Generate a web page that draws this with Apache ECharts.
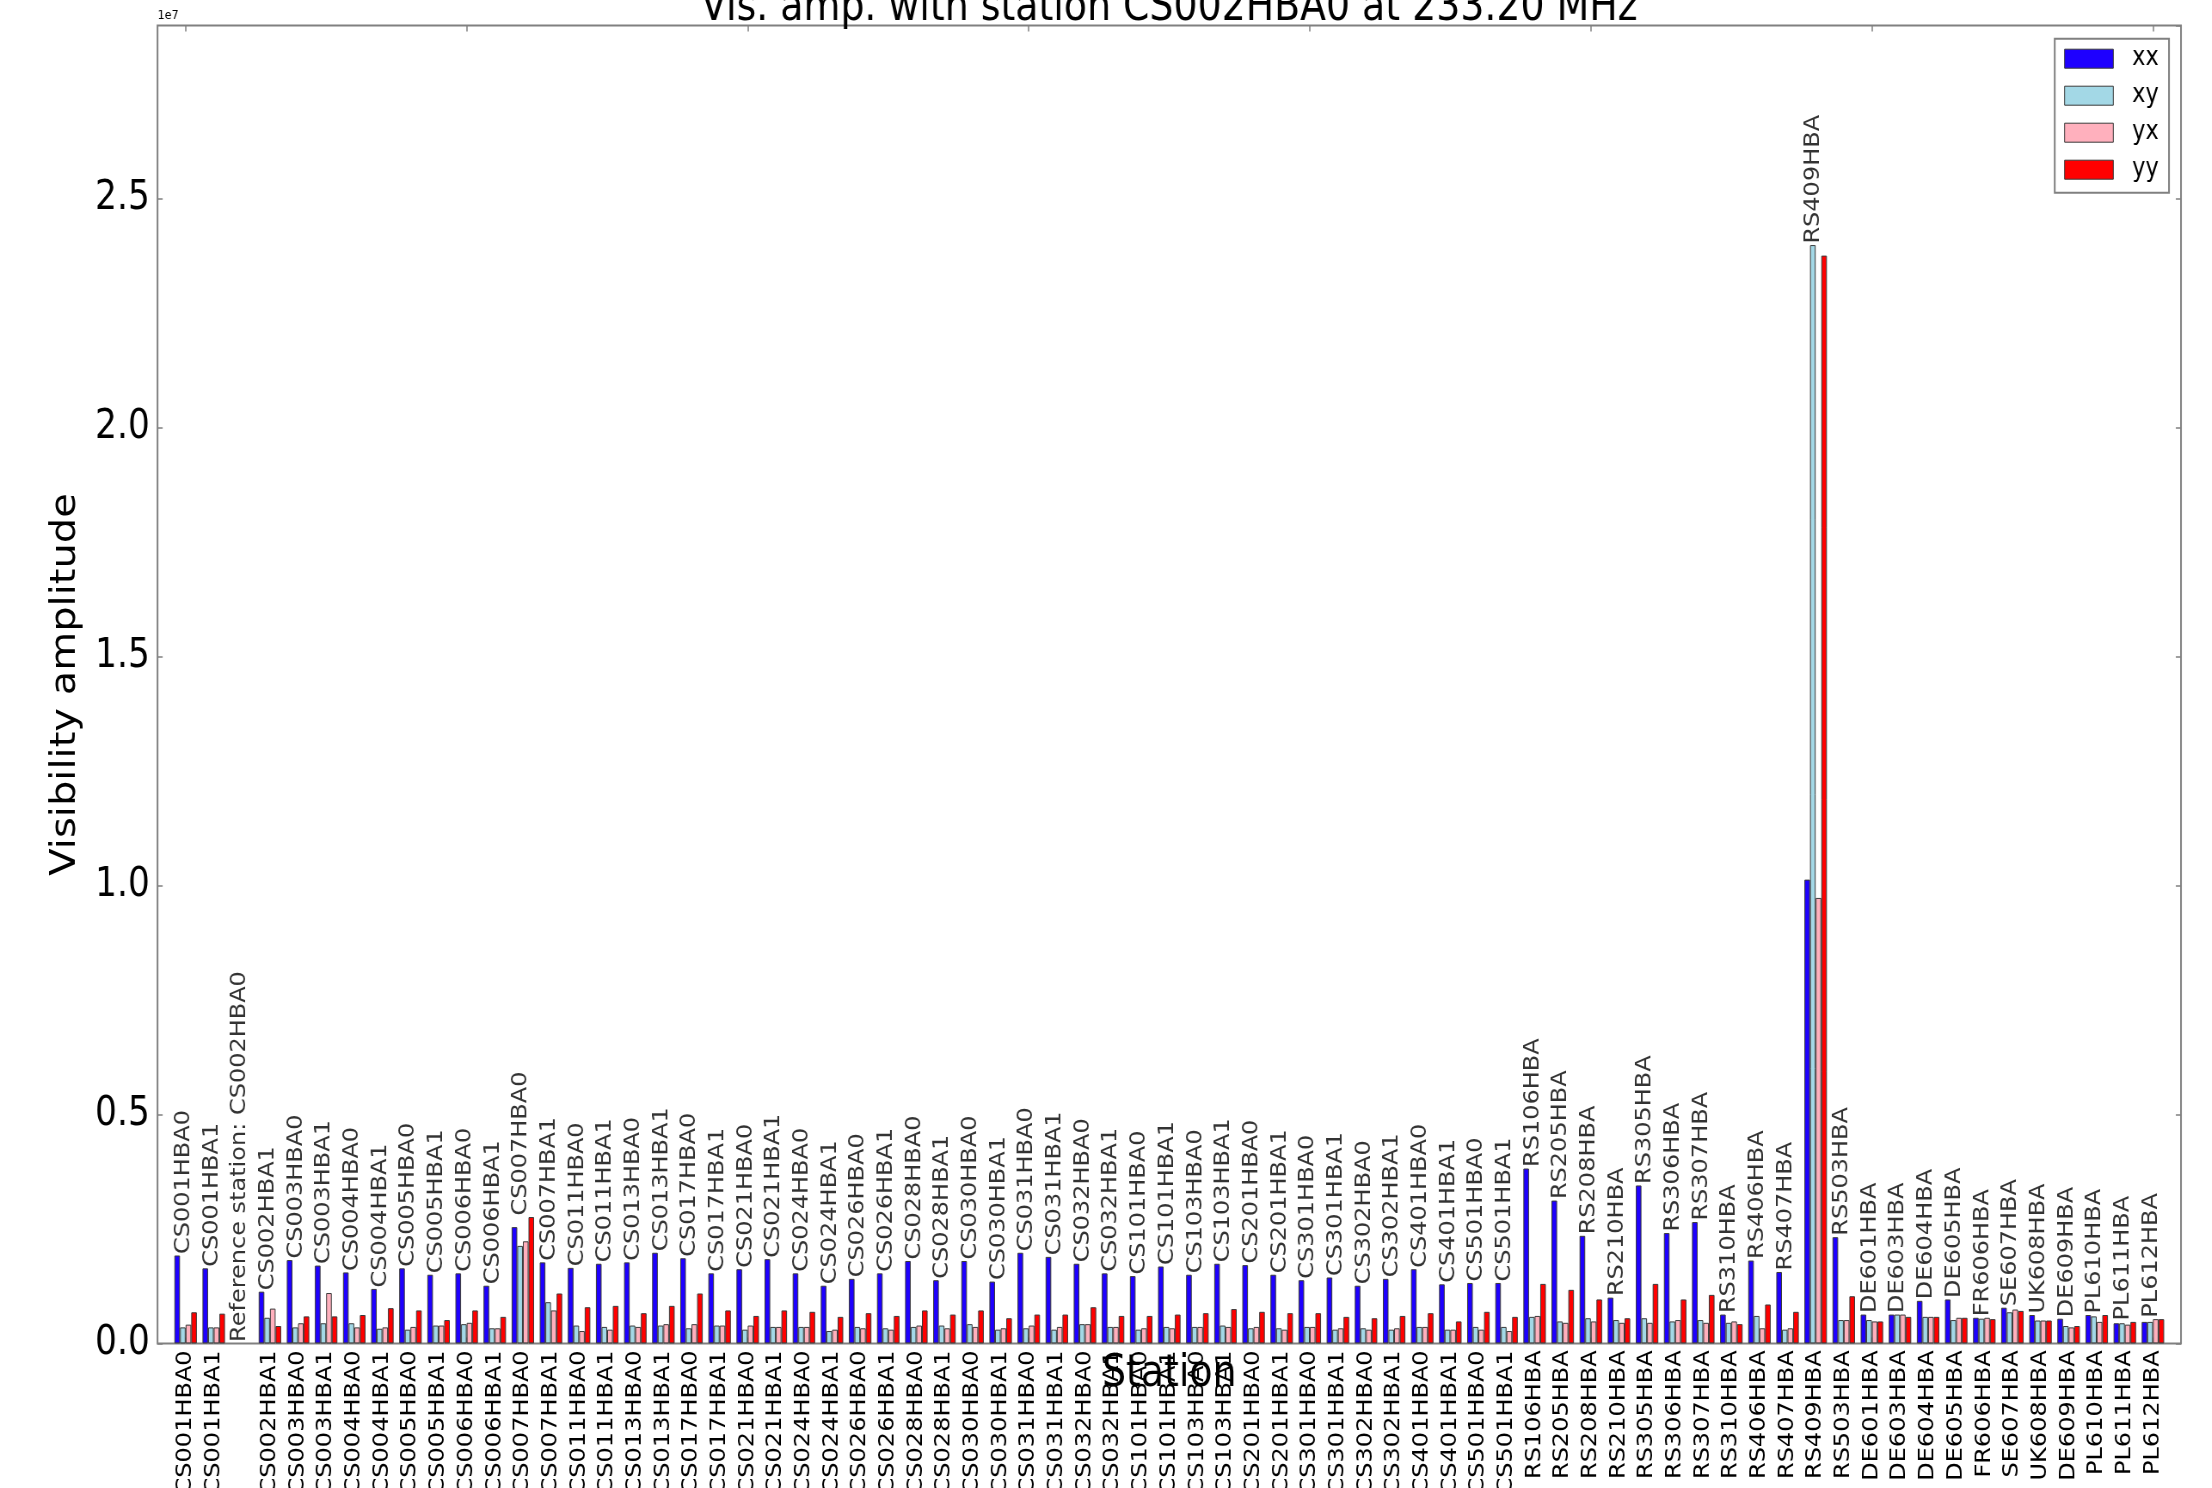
<!DOCTYPE html>
<html>
<head>
<meta charset="utf-8">
<script src="https://cdn.jsdelivr.net/npm/echarts@6/dist/echarts.min.js"></script>
<style>
  html, body { margin: 0; padding: 0; background: #fff; overflow: hidden; }
  #wrap { width: 2212px; height: 1488px; overflow: hidden; }
  #chart { height: 1488px; transform-origin: 0 0; }
</style>
</head>
<body>
<div id="wrap"><div id="chart"></div></div>
<script>
// Station names (tick labels); the reference station gets an empty tick label
const stations = [
  'CS001HBA0','CS001HBA1','CS002HBA0','CS002HBA1','CS003HBA0','CS003HBA1','CS004HBA0','CS004HBA1',
  'CS005HBA0','CS005HBA1','CS006HBA0','CS006HBA1','CS007HBA0','CS007HBA1','CS011HBA0','CS011HBA1',
  'CS013HBA0','CS013HBA1','CS017HBA0','CS017HBA1','CS021HBA0','CS021HBA1','CS024HBA0','CS024HBA1',
  'CS026HBA0','CS026HBA1','CS028HBA0','CS028HBA1','CS030HBA0','CS030HBA1','CS031HBA0','CS031HBA1',
  'CS032HBA0','CS032HBA1','CS101HBA0','CS101HBA1','CS103HBA0','CS103HBA1','CS201HBA0','CS201HBA1',
  'CS301HBA0','CS301HBA1','CS302HBA0','CS302HBA1','CS401HBA0','CS401HBA1','CS501HBA0','CS501HBA1',
  'RS106HBA','RS205HBA','RS208HBA','RS210HBA','RS305HBA','RS306HBA','RS307HBA','RS310HBA',
  'RS406HBA','RS407HBA','RS409HBA','RS503HBA','DE601HBA','DE603HBA','DE604HBA','DE605HBA',
  'FR606HBA','SE607HBA','UK608HBA','DE609HBA','PL610HBA','PL611HBA','PL612HBA'
];
const refStation = 'CS002HBA0';
const freqMHz = '233.20';

// Visibility amplitudes, units of 1e7 (null = reference station itself)
const xx = [0.192,0.164,null,0.113,0.182,0.170,0.155,0.119,0.164,0.150,0.153,0.126,0.254,0.177,0.165,0.174,
  0.177,0.198,0.186,0.153,0.162,0.184,0.153,0.126,0.141,0.153,0.180,0.138,0.180,0.135,0.198,0.189,
  0.174,0.153,0.147,0.168,0.150,0.174,0.171,0.150,0.138,0.144,0.126,0.141,0.162,0.129,0.132,0.132,
  0.382,0.312,0.235,0.100,0.345,0.241,0.265,0.063,0.181,0.156,1.013,0.232,0.063,0.063,0.093,0.096,
  0.056,0.078,0.062,0.054,0.062,0.044,0.047];
const xy = [0.035,0.035,null,0.056,0.035,0.044,0.044,0.032,0.030,0.039,0.042,0.033,0.213,0.090,0.039,0.036,
  0.039,0.039,0.033,0.039,0.030,0.036,0.036,0.027,0.036,0.033,0.036,0.039,0.042,0.030,0.033,0.030,
  0.042,0.036,0.030,0.036,0.036,0.039,0.033,0.033,0.036,0.030,0.033,0.030,0.036,0.030,0.036,0.036,
  0.058,0.048,0.055,0.051,0.055,0.048,0.051,0.045,0.060,0.030,2.399,0.051,0.051,0.063,0.058,0.051,
  0.054,0.068,0.050,0.038,0.059,0.044,0.047];
const yx = [0.041,0.035,null,0.076,0.044,0.110,0.035,0.035,0.036,0.039,0.045,0.033,0.223,0.072,0.027,0.030,
  0.036,0.042,0.042,0.039,0.039,0.036,0.036,0.030,0.033,0.030,0.039,0.033,0.036,0.033,0.039,0.036,
  0.042,0.036,0.033,0.033,0.036,0.036,0.036,0.030,0.036,0.033,0.030,0.033,0.036,0.030,0.030,0.027,
  0.060,0.045,0.048,0.045,0.045,0.051,0.045,0.048,0.033,0.033,0.973,0.051,0.048,0.063,0.058,0.056,
  0.056,0.074,0.050,0.035,0.047,0.041,0.053];
const yy = [0.068,0.065,null,0.038,0.059,0.059,0.062,0.077,0.072,0.051,0.072,0.058,0.276,0.109,0.079,0.082,
  0.066,0.082,0.109,0.072,0.060,0.072,0.069,0.058,0.066,0.060,0.072,0.063,0.072,0.055,0.063,0.063,
  0.079,0.060,0.060,0.063,0.066,0.075,0.069,0.066,0.066,0.058,0.055,0.060,0.066,0.048,0.069,0.058,
  0.130,0.117,0.096,0.055,0.130,0.096,0.106,0.042,0.085,0.069,2.376,0.103,0.048,0.058,0.058,0.056,
  0.053,0.071,0.050,0.038,0.062,0.047,0.053];

const polarizations = ['xx', 'xy', 'yx', 'yy'];
const polData = [xx, xy, yx, yy];
const polColors = ['#1e00ff', '#a3d8e6', '#ffb0bd', '#ff0000'];

// Tick labels along the bottom, annotations above each group
const tickLabels = stations.map(s => (s === refStation ? '' : s));
const groupNames = stations.map(s => (s === refStation ? 'Reference station: ' + s : s));
const groupPeaks = stations.map((s, i) => Math.max(...polData.map(a => a[i] || 0)));
const yMax = 1.2 * Math.max(...groupPeaks);

// The figure is drawn on a wider canvas and squeezed horizontally
const K = 0.86;
const W = 2212 / K;
const sx = v => v / K;
const frameLeft = sx(157.5), frameRight = sx(2181);
const unit = (frameRight - frameLeft) / 72;
const gTop = 25.4, gBottom = 1488 - 1343.4;

const el = document.getElementById('chart');
el.style.width = W + 'px';
el.style.transform = 'scaleX(' + K + ')';
const chart = echarts.init(el, null, { width: W, height: 1488 });

const font = 'DejaVu Sans';
const tickStyle = { color: '#808080', width: 1.5 };

const barSeries = polarizations.map((p, k) => ({
  name: p,
  type: 'bar',
  xAxisIndex: 0,
  yAxisIndex: 2,
  barWidth: '20%',
  barGap: '0%',
  data: polData[k],
  itemStyle: { color: polColors[k], borderColor: '#3a3a3a', borderWidth: 1 },
  emphasis: { disabled: true }
}));

const option = {
  animation: false,
  backgroundColor: '#fff',
  textStyle: { fontFamily: font },
  title: {
    text: 'Vis. amp. with station ' + refStation + ' at ' + freqMHz + ' MHz',
    left: (frameLeft + frameRight) / 2 - 5,
    top: -18,
    textAlign: 'center',
    textStyle: { fontFamily: font, fontSize: 44, fontWeight: 'normal', color: '#000' }
  },
  legend: {
    data: polarizations,
    orient: 'vertical',
    left: sx(2054.7),
    top: 38.7,
    padding: [7, 12, 10, 11],
    itemWidth: sx(48.7),
    itemHeight: 19,
    itemGap: 11,
    icon: 'rect',
    borderColor: '#808080',
    borderWidth: 2,
    backgroundColor: '#fff',
    itemStyle: { borderColor: '#3a3a3a', borderWidth: 1 },
    textStyle: { fontFamily: font, fontSize: 26, color: '#000', padding: [0, 0, 0, 17] }
  },
  grid: [
    { left: frameLeft, right: W - frameRight, top: gTop, bottom: gBottom,
      outerBoundsMode: 'none', containLabel: false,
      show: true, borderColor: '#808080', borderWidth: 2, backgroundColor: 'transparent' },
    { left: frameLeft + unit / 2, right: W - frameRight + unit / 2, top: gTop, bottom: gBottom,
      outerBoundsMode: 'none', containLabel: false }
  ],
  xAxis: [
    {
      type: 'category', gridIndex: 1, data: tickLabels, position: 'bottom',
      axisLine: { show: false },
      axisTick: { show: true, inside: true, alignWithLabel: true, interval: 9, length: 6, lineStyle: tickStyle },
      axisLabel: { interval: 0, rotate: 90, fontSize: 24, margin: 7, color: '#000', fontFamily: font },
      name: 'Station', nameLocation: 'middle', nameGap: 9, nameMoveOverlap: false,
      nameTextStyle: { fontSize: 44, color: '#000', fontFamily: font }
    },
    {
      type: 'category', gridIndex: 1, data: tickLabels, position: 'top',
      axisLine: { show: false },
      axisTick: { show: true, inside: true, alignWithLabel: true, interval: 9, length: 6, lineStyle: tickStyle },
      axisLabel: { show: false }
    },
    { type: 'value', gridIndex: 0, min: 0, max: 1, show: false }
  ],
  yAxis: [
    {
      type: 'value', gridIndex: 0, min: 0, max: yMax, interval: 0.5, position: 'left',
      axisLine: { show: false },
      axisTick: { show: true, inside: true, length: 6, lineStyle: tickStyle },
      axisLabel: {
        fontSize: 40, margin: 9, color: '#000', fontFamily: font, showMaxLabel: false,
        formatter: v => (Math.abs(v / 0.5 - Math.round(v / 0.5)) < 1e-6 ? v.toFixed(1) : '')
      },
      splitLine: { show: false },
      name: 'Visibility amplitude', nameLocation: 'middle', nameGap: 87, nameMoveOverlap: false,
      nameTextStyle: { fontSize: 40, color: '#000', fontFamily: font }
    },
    {
      type: 'value', gridIndex: 0, min: 0, max: yMax, interval: 0.5, position: 'right',
      axisLine: { show: false },
      axisTick: { show: true, inside: true, length: 6, lineStyle: tickStyle },
      axisLabel: { show: false },
      splitLine: { show: false }
    },
    { type: 'value', gridIndex: 1, min: 0, max: yMax, show: false }
  ],
  series: barSeries.concat([{
    name: 'stations',
    type: 'scatter',
    xAxisIndex: 0,
    yAxisIndex: 2,
    silent: true,
    symbolSize: 1,
    itemStyle: { color: 'transparent' },
    data: groupPeaks,
    label: {
      show: true,
      position: 'top',
      distance: 1,
      rotate: 90,
      align: 'left',
      verticalAlign: 'middle',
      offset: [0, -2],
      fontSize: 24,
      color: '#000',
      fontFamily: font,
      formatter: p => groupNames[p.dataIndex]
    }
  }]),
  graphic: [{
    type: 'text',
    left: frameLeft,
    top: 9,
    style: { text: '1e7', fontSize: 13, fill: '#000', fontFamily: font }
  }]
};

chart.setOption(option);
</script>
</body>
</html>
